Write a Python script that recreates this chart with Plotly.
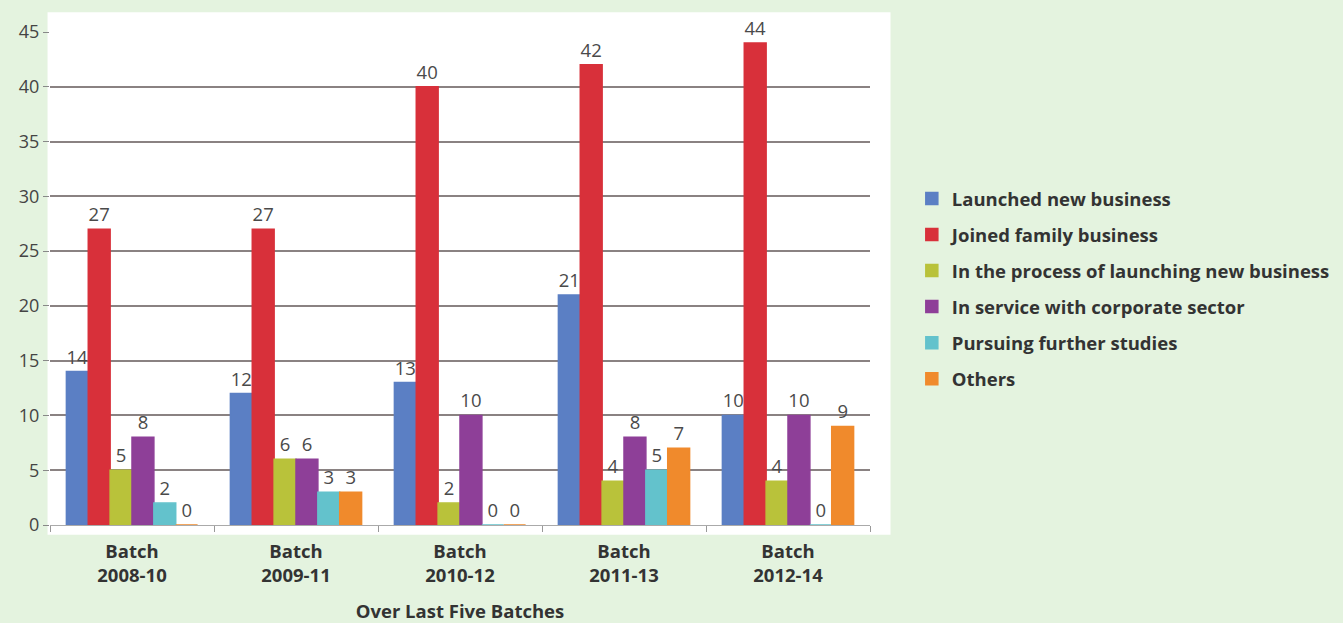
import plotly.graph_objects as go

# Batches on the category axis
batches = ["Batch<br>2008-10", "Batch<br>2009-11", "Batch<br>2010-12",
           "Batch<br>2011-13", "Batch<br>2012-14"]

# Outcome counts per batch
launched_new = [14, 12, 13, 21, 10]
joined_family = [27, 27, 40, 42, 44]
launching_process = [5, 6, 2, 4, 4]
corporate_service = [8, 6, 10, 8, 10]
further_studies = [2, 3, 0, 5, 0]
others = [0, 3, 0, 7, 9]

series_names = [
    "Launched new business",
    "Joined family business",
    "In the process of launching new business",
    "In service with corporate sector",
    "Pursuing further studies",
    "Others",
]
series_values = [launched_new, joined_family, launching_process,
                 corporate_service, further_studies, others]
series_colors = ["#5b7fc4", "#d8303a", "#b9c23a", "#8e3f98", "#63c2cc", "#f08a2c"]

y_ticks = [0, 5, 10, 15, 20, 25, 30, 35, 40, 45]

FONT = "Open Sans, Noto Sans, sans-serif"

fig = go.Figure()
for i, (name, vals, col) in enumerate(zip(series_names, series_values, series_colors)):
    fig.add_trace(go.Bar(
        x=batches,
        y=vals,
        name=name,
        legendgroup=f"g{i}",
        marker=dict(color=col, line=dict(color=col, width=1.5)),
        text=[str(v) for v in vals],
        textposition="outside",
        textfont=dict(family=FONT, size=18.5, color="#4a4a4a"),
        cliponaxis=False,
    ))

# white chart panel behind the plot
fig.add_shape(type="rect", xref="paper", yref="paper",
              x0=-0.003, x1=1.025, y0=-0.02, y1=1.04,
              fillcolor="white", line=dict(width=0), layer="below")

fig.update_layout(
    width=1343, height=623,
    margin=dict(l=50, r=473, t=32, b=98, autoexpand=False),
    paper_bgcolor="#e4f3df",
    plot_bgcolor="rgba(0,0,0,0)",
    barmode="group",
    bargap=0.2,
    bargroupgap=0.0,
    showlegend=True,
    legend=dict(
        x=1.051, y=0.70, xanchor="left", yanchor="top",
        font=dict(family=FONT, size=18.5, color="#333333", weight="bold"),
        bgcolor="rgba(0,0,0,0)",
        tracegroupgap=9,
        itemwidth=30,
    ),
    xaxis=dict(
        automargin=False,
        tickson="boundaries",
        ticks="outside", ticklen=6, tickcolor="#999999",
        showline=True, linecolor="#aaaaaa", linewidth=1,
        showgrid=False,
        ticklabelstandoff=10,
        tickfont=dict(family=FONT, size=18.5, color="#333333", weight="bold"),
        title=dict(text="Over Last Five Batches",
                   font=dict(family=FONT, size=18.5, color="#333333", weight="bold"),
                   standoff=21),
    ),
    yaxis=dict(
        automargin=False,
        range=[0, 45],
        tickvals=y_ticks,
        ticks="outside", ticklen=6, tickcolor="#888888",
        showline=False,
        showgrid=True, gridcolor="#8a8282", gridwidth=1.5,
        zeroline=False,
        tickfont=dict(family=FONT, size=18, color="#444444"),
    ),
)

fig.write_html("out.html")
